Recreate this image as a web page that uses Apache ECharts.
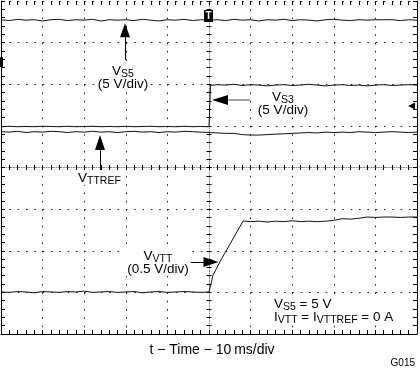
<!DOCTYPE html>
<html><head><meta charset="utf-8">
<script src="https://cdn.jsdelivr.net/npm/echarts@6/dist/echarts.min.js"></script>
<style>html,body{margin:0;padding:0;background:#fff}#c{width:420px;height:368px}</style>
</head><body><div id="c"></div>
<script>
// Horizontal: time in ms from trigger (10 ms/div). Vertical: screen divisions from centre.
const timeRange = [-50, 50];
const divRange = [-4, 4];
const xTitle = 't \u2212 Time \u2212 10\u2009ms/div';
const figId = 'G015';

// [time ms, divisions]
const vs5 = [[-50,3.55],[-48,3.53],[-46,3.56],[-44,3.54],[-42,3.55],[-40,3.52],[-38,3.55],[-36,3.56],[-34,3.53],[-32,3.55],[-30,3.54],[-28,3.56],[-26,3.52],[-24,3.55],[-22,3.54],[-20,3.55],[-18,3.53],[-16,3.56],[-14,3.54],[-12,3.52],[-10,3.55],[-8,3.54],[-6,3.56],[-4,3.53],[-2,3.55],[0,3.54],[2,3.55],[4,3.53],[6,3.56],[8,3.54],[10,3.55],[12,3.52],[14,3.55],[16,3.54],[18,3.56],[20,3.53],[22,3.55],[24,3.54],[26,3.52],[28,3.55],[30,3.56],[32,3.54],[34,3.53],[36,3.55],[38,3.54],[40,3.55],[42,3.55],[44,3.55],[46,3.53],[48,3.55],[50,3.54]];
const vs3 = [[-50,0.98],[-48,0.99],[-46,0.98],[-44,0.985],[-42,0.98],[-40,0.99],[-38,0.985],[-36,0.98],[-34,0.99],[-32,0.98],[-30,0.985],[-28,0.99],[-26,0.98],[-24,0.985],[-22,0.98],[-20,0.99],[-18,0.98],[-16,0.985],[-14,0.99],[-12,0.98],[-10,0.985],[-8,0.98],[-6,0.99],[-4,0.98],[-2,0.985],[0,0.98],[0.25,0.98],[0.35,1.97],[2,1.99],[4,1.98],[6,2.0],[8,1.97],[10,1.99],[12,1.98],[14,1.96],[16,1.98],[18,1.99],[20,1.97],[22,1.98],[24,2.0],[26,1.98],[28,1.96],[30,1.98],[32,1.99],[34,1.97],[36,1.98],[38,1.96],[40,1.98],[42,1.99],[44,1.97],[46,1.98],[48,1.99],[50,1.98]];
const vttref = [[-50,0.86],[-48,0.85],[-46,0.87],[-44,0.84],[-42,0.86],[-40,0.85],[-38,0.87],[-36,0.86],[-34,0.84],[-32,0.86],[-30,0.85],[-28,0.87],[-26,0.85],[-24,0.86],[-22,0.84],[-20,0.86],[-18,0.87],[-16,0.85],[-14,0.86],[-12,0.84],[-10,0.86],[-8,0.85],[-6,0.87],[-4,0.86],[-2,0.85],[0,0.84],[2,0.83],[4,0.82],[6,0.82],[8,0.79],[10,0.78],[12,0.78],[14,0.79],[16,0.80],[18,0.81],[20,0.82],[22,0.83],[24,0.84],[26,0.83],[28,0.85],[30,0.84],[32,0.85],[34,0.84],[36,0.86],[38,0.85],[40,0.84],[42,0.85],[44,0.86],[46,0.85],[48,0.84],[50,0.85]];
const vvtt = [[-50,-2.99],[-48,-3.0],[-46,-2.98],[-44,-2.99],[-42,-3.01],[-40,-2.98],[-38,-2.99],[-36,-3.0],[-34,-2.98],[-32,-2.99],[-30,-2.97],[-28,-3.0],[-26,-2.99],[-24,-2.98],[-22,-3.0],[-20,-2.99],[-18,-2.98],[-16,-3.01],[-14,-2.99],[-12,-2.98],[-10,-3.0],[-8,-2.99],[-6,-2.98],[-4,-2.99],[-2,-3.0],[0,-2.99],[0.3,-2.99],[0.6,-2.75],[0.9,-2.60],[2.6,-2.27],[8.2,-1.285],[10,-1.30],[12,-1.29],[14,-1.31],[16,-1.29],[18,-1.30],[20,-1.28],[22,-1.30],[24,-1.29],[26,-1.30],[28,-1.29],[30,-1.27],[32,-1.23],[34,-1.24],[36,-1.22],[38,-1.19],[40,-1.20],[42,-1.19],[44,-1.19],[46,-1.20],[48,-1.19],[50,-1.19]];

const FAM = '"Liberation Sans", Arial, sans-serif';
const chart = echarts.init(document.getElementById('c'), null, {renderer: 'canvas'});

function xAx(extra) {
  return Object.assign({type:'value', min:timeRange[0], max:timeRange[1], interval:10,
    axisLabel:{show:false}, splitLine:{show:false}}, extra);
}
function yAx(extra) {
  return Object.assign({type:'value', min:divRange[0], max:divRange[1], interval:1,
    axisLabel:{show:false}, splitLine:{show:false}}, extra);
}
const blk = {color:'#000', width:1};
function dots() { return {show:true, lineStyle:{color:'#222', width:1, type:[1.6, 6.725]}}; }

function trace(name, data) {
  return {type:'line', name, data, symbol:'none', animation:false, silent:true,
    lineStyle:{color:'#111', width:1}, xAxisIndex:0, yAxisIndex:0};
}
const m = {fontSize:13.5, fontFamily:FAM, fill:'#000', lineHeight:13, verticalAlign:'top'};
const s = {fontSize:10.5, fontFamily:FAM, fill:'#000', lineHeight:9, padding:[5,0,0,0], verticalAlign:'top'};
function label(x, y, text, align) {
  return {type:'text', x, y, silent:true, z:100, style:{text, align: align || 'center', verticalAlign:'top',
    rich:{m, s}, backgroundColor:'#fff', padding:[1,2], fontSize:13.5, fontFamily:FAM, fill:'#000'}};
}

const vs5Series = trace('VS5', vs5);
vs5Series.markLine = {silent:true, animation:false, symbol:['none','triangle'], symbolSize:[10,14],
  label:{show:false}, lineStyle:{color:'#000', width:1, type:'solid'}, emphasis:{disabled:true},
  data:[
    [{coord:[-20.19, 2.58]}, {coord:[-20.19, 3.30]}],
    [{coord:[9.86, 1.62], symbol:'none', lineStyle:{color:'#888', width:1.5}}, {coord:[3.6, 1.62], symbol:'none'}],
    [{coord:[3.6, 1.62]}, {coord:[2.64, 1.62], symbolSize:[10,16]}],
    [{coord:[-26.2, -0.06]}, {coord:[-26.2, 0.60], symbolSize:[10,15]}],
    [{coord:[-6.25, -2.27]}, {coord:[0.48, -2.27], symbolSize:[10,15]}]
  ]};
vs5Series.markPoint = {silent:true, animation:false, data:[
  {coord:[-0.12, 3.64], symbol:'rect', symbolSize:[9,12], itemStyle:{color:'#000'},
   label:{show:true, position:'inside', formatter:'T', color:'#fff', fontSize:10, fontWeight:'bold', fontFamily:FAM}},
  {coord:[48.7, 1.48], symbol:'triangle', symbolRotate:90, symbolSize:[7,7], itemStyle:{color:'#000'}, label:{show:false}},
  {coord:[-50, 2.53], symbol:'rect', symbolSize:[4,10], itemStyle:{color:'#000'}, label:{show:false}}
]};

chart.setOption({
  animation:false,
  backgroundColor:'#fff',
  grid:{left:1, top:1, width:416, height:333},
  xAxis:[
    xAx({position:'bottom', axisLine:{show:true, onZero:false, lineStyle:blk},
      axisTick:{show:true, inside:true, length:4, lineStyle:blk},
      minorTick:{show:true, splitNumber:5, length:4, lineStyle:blk}, splitLine:dots()}),
    xAx({position:'top', axisLine:{show:false, onZero:false},
      axisTick:{show:true, inside:true, length:4, lineStyle:blk},
      minorTick:{show:true, splitNumber:5, length:4, lineStyle:blk}}),
    xAx({position:'bottom', offset:-166.5, axisLine:{show:true, onZero:false, lineStyle:{color:'#888', width:1, type:[1,1.5]}},
      axisTick:{show:true, inside:true, length:2.5, lineStyle:blk},
      minorTick:{show:true, splitNumber:5, length:2.5, lineStyle:blk}}),
    xAx({position:'bottom', offset:-166.5, axisLine:{show:false, onZero:false},
      axisTick:{show:true, inside:false, length:2.5, lineStyle:blk},
      minorTick:{show:true, splitNumber:5, length:2.5, lineStyle:blk}})
  ],
  yAxis:[
    yAx({position:'left', axisLine:{show:true, onZero:false, lineStyle:blk},
      axisTick:{show:true, inside:true, length:4, lineStyle:blk},
      minorTick:{show:true, splitNumber:5, length:4, lineStyle:blk}, splitLine:dots()}),
    yAx({position:'right', axisLine:{show:true, onZero:false, lineStyle:blk},
      axisTick:{show:true, inside:true, length:4, lineStyle:blk},
      minorTick:{show:true, splitNumber:5, length:4, lineStyle:blk}}),
    yAx({position:'left', offset:-208, axisLine:{show:true, onZero:false, lineStyle:{color:'#888', width:1, type:[1,1.5]}},
      axisTick:{show:true, inside:true, length:2.5, lineStyle:blk},
      minorTick:{show:true, splitNumber:5, length:2.5, lineStyle:blk}}),
    yAx({position:'left', offset:-208, axisLine:{show:false, onZero:false},
      axisTick:{show:true, inside:false, length:2.5, lineStyle:blk},
      minorTick:{show:true, splitNumber:5, length:2.5, lineStyle:blk}})
  ],
  title:[
    {text:xTitle, left:212, top:343, textAlign:'center', padding:0,
     textStyle:{fontSize:14, fontWeight:'normal', fontFamily:FAM, color:'#000'}},
    {text:figId, right:5, top:358, padding:0,
     textStyle:{fontSize:10, fontWeight:'normal', fontFamily:FAM, color:'#000'}}
  ],
  graphic:[
    label(123, 63, '{m|V}{s|S5}\n{m|(5 V/div)}'),
    label(283, 89, '{m|V}{s|S3}\n{m|(5 V/div)}'),
    label(76, 170, '{m|V}{s|TTREF}', 'left'),
    label(158, 248, '{m|V}{s|VTT}\n{m|(0.5 V/div)}'),
    label(272, 296, '{m|V}{s|S5}{m| = 5 V}\n{m|I}{s|VTT}{m| = I}{s|VTTREF}{m| = 0 A}', 'left')
  ],
  series:[vs5Series, trace('VS3', vs3), trace('VTTREF', vttref), trace('VVTT', vvtt)]
});
</script></body></html>
